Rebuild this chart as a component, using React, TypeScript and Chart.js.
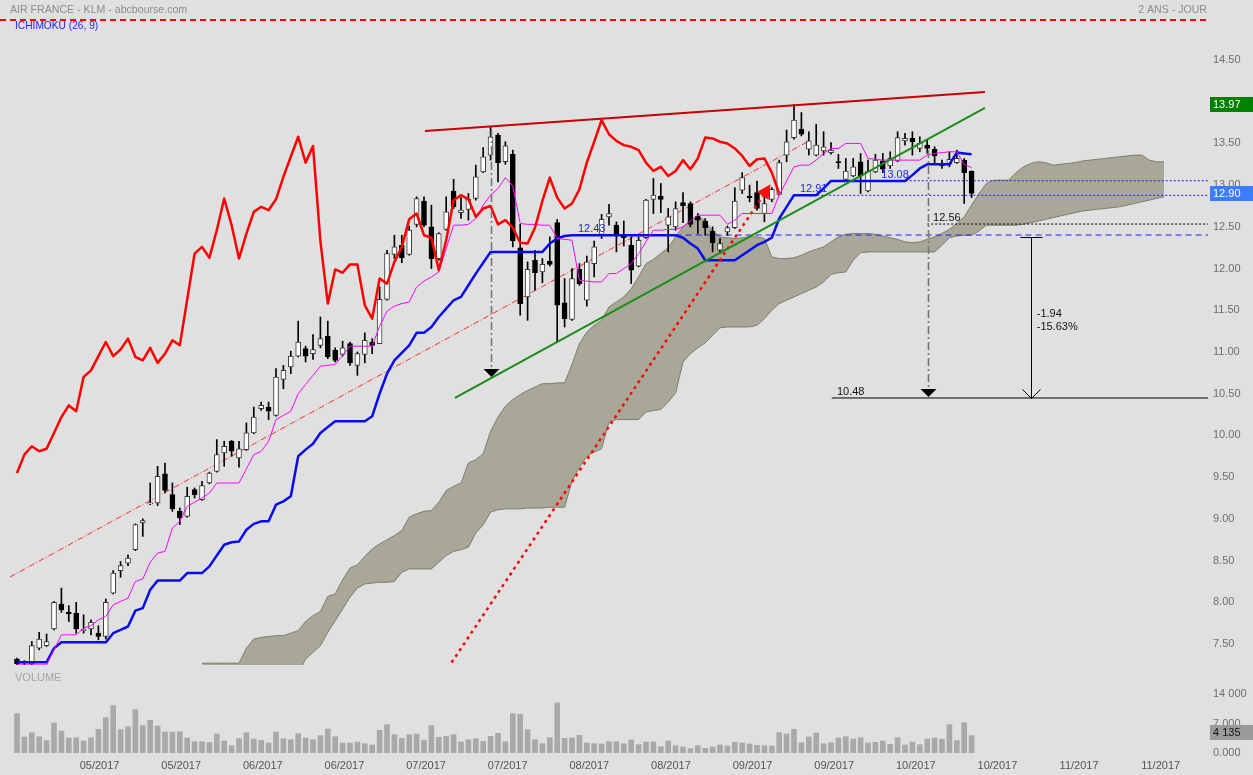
import React, { useEffect, useRef } from "react";
import { Chart, registerables } from "chart.js";

Chart.register(...registerables);

const FONT = '"Liberation Sans", Arial, Helvetica, sans-serif';

// ---------- daily sessions (index 0 .. 129) ----------
const opens = [
  7.32, 7.27, 7.26, 7.45, 7.48, 7.68, 7.98, 7.88, 7.87, 7.66,
  7.68, 7.63, 7.59, 8.11, 8.38, 8.47, 8.63, 8.95, 9.18, 9.19,
  9.54, 9.29, 9.09, 9.03, 9.35, 9.23, 9.43, 9.57, 9.79, 9.93,
  9.73, 9.83, 10.03, 10.32, 10.34, 10.24, 10.67, 10.82, 10.95, 11.04,
  10.98, 11.08, 11.19, 11.02, 10.97, 11.1, 10.84, 10.97, 11.12, 11.1,
  11.63, 12.17, 12.28, 12.17, 12.53, 12.81, 12.5, 12.12, 12.47, 12.93,
  12.67, 12.71, 12.84, 13.16, 13.36, 13.6, 13.28, 13.37, 12.25, 11.66,
  12.1, 11.96, 12.09, 12.55, 11.59, 11.39, 11.99, 11.62, 12.06, 12.41,
  12.62, 12.52, 12.41, 12.28, 12.03, 12.37, 12.83, 12.87, 12.52, 12.5,
  12.79, 12.78, 12.63, 12.57, 12.45, 12.22, 12.44, 12.49, 12.94, 12.87,
  12.91, 12.66, 12.83, 12.89, 13.36, 13.57, 13.67, 13.43, 13.36, 13.41,
  13.39, 13.28, 13.07, 13.11, 13.28, 12.93, 13.16, 13.29, 13.23, 13.29,
  13.53, 13.56, 13.44, 13.48, 13.43, 13.25, 13.25, 13.27, 13.3, 13.17,
];
const highs = [
  7.33, 7.3, 7.53, 7.64, 7.62, 8.01, 8.17, 7.96, 8.0, 7.85,
  7.79, 7.72, 8.04, 8.38, 8.49, 8.57, 8.94, 9.0, 9.43, 9.63,
  9.67, 9.43, 9.13, 9.38, 9.37, 9.45, 9.56, 9.95, 9.93, 9.94,
  9.93, 10.15, 10.34, 10.4, 10.4, 10.8, 10.84, 11.01, 11.37, 11.07,
  11.21, 11.42, 11.37, 11.05, 11.13, 11.12, 11.0, 11.23, 11.16, 11.78,
  12.22, 12.4, 12.4, 12.51, 12.86, 12.86, 12.76, 12.43, 12.86, 13.07,
  12.85, 12.9, 13.24, 13.45, 13.7, 13.62, 13.52, 13.42, 12.53, 12.08,
  12.22, 12.12, 12.38, 12.59, 11.88, 12.0, 12.06, 12.15, 12.33, 12.65,
  12.77, 12.56, 12.57, 12.38, 12.38, 12.83, 13.08, 13.02, 12.72, 12.8,
  12.91, 12.8, 12.66, 12.6, 12.5, 12.36, 12.51, 12.97, 13.15, 13.0,
  13.05, 12.88, 12.97, 13.3, 13.66, 13.97, 13.87, 13.64, 13.73, 13.64,
  13.51, 13.37, 13.32, 13.32, 13.38, 13.3, 13.37, 13.38, 13.4, 13.64,
  13.62, 13.64, 13.58, 13.55, 13.46, 13.3, 13.4, 13.42, 13.32, 13.17,
];
const lows = [
  7.25, 7.25, 7.25, 7.43, 7.47, 7.67, 7.88, 7.77, 7.63, 7.63,
  7.61, 7.55, 7.56, 8.1, 8.3, 8.44, 8.62, 8.79, 9.17, 9.16,
  9.31, 9.09, 8.93, 9.02, 9.25, 9.22, 9.42, 9.56, 9.63, 9.75,
  9.62, 9.82, 10.02, 10.3, 10.19, 10.23, 10.56, 10.74, 10.94, 10.88,
  10.91, 11.05, 10.92, 10.88, 10.95, 10.84, 10.72, 10.87, 10.98, 11.1,
  11.62, 12.12, 12.07, 12.16, 12.5, 12.5, 12.0, 12.1, 12.46, 12.72,
  12.6, 12.58, 12.82, 13.15, 13.3, 13.04, 13.25, 12.26, 11.44, 11.38,
  11.74, 11.83, 12.03, 11.12, 11.3, 11.38, 11.8, 11.55, 11.9, 12.36,
  12.52, 12.2, 12.27, 11.82, 12.02, 12.36, 12.66, 12.67, 12.2, 12.46,
  12.55, 12.5, 12.42, 12.4, 12.2, 12.18, 12.4, 12.48, 12.9, 12.8,
  12.7, 12.56, 12.8, 12.88, 13.28, 13.55, 13.59, 13.36, 13.35, 13.36,
  13.37, 13.2, 13.06, 13.1, 12.9, 12.92, 13.15, 13.15, 13.2, 13.28,
  13.48, 13.36, 13.4, 13.38, 13.25, 13.2, 13.22, 13.26, 12.78, 12.85,
];
const closes = [
  7.26, 7.28, 7.48, 7.56, 7.53, 8.0, 7.91, 7.86, 7.68, 7.68,
  7.76, 7.59, 8.0, 8.35, 8.44, 8.53, 8.93, 8.98, 9.19, 9.51,
  9.34, 9.12, 9.01, 9.27, 9.29, 9.4, 9.55, 9.77, 9.87, 9.81,
  9.84, 10.03, 10.22, 10.36, 10.29, 10.7, 10.78, 10.95, 11.12, 10.95,
  11.03, 11.16, 10.94, 10.9, 11.05, 10.87, 10.98, 11.14, 11.08, 11.63,
  12.18, 12.26, 12.13, 12.46, 12.84, 12.52, 12.12, 12.42, 12.68, 12.74,
  12.7, 12.83, 13.1, 13.34, 13.58, 13.27, 13.47, 12.33, 11.58, 11.99,
  11.95, 12.05, 12.05, 11.56, 11.4, 11.88, 11.82, 12.08, 12.26, 12.59,
  12.66, 12.4, 12.37, 11.98, 12.34, 12.82, 12.88, 12.83, 12.62, 12.72,
  12.75, 12.53, 12.58, 12.49, 12.31, 12.3, 12.49, 12.81, 13.09, 12.85,
  12.72, 12.78, 12.95, 13.27, 13.52, 13.78, 13.61, 13.53, 13.48, 13.46,
  13.42, 13.27, 13.17, 13.22, 13.11, 13.17, 13.3, 13.19, 13.32, 13.57,
  13.56, 13.52, 13.5, 13.44, 13.35, 13.23, 13.31, 13.32, 13.15, 12.9,
];
const volumes = [
  9330, 3800, 4820, 3870, 2930, 7120, 5220, 3560, 3640, 2850,
  3640, 5620, 8380, 11230, 5540, 6250, 10280, 6490, 7750, 6410,
  4980, 4980, 5060, 3560, 2690, 2690, 2530, 4510, 2850, 1740,
  3400, 4820, 3320, 3010, 2370, 4980, 3400, 3160, 4590, 3560,
  3160, 4110, 5700, 3870, 2370, 2370, 2610, 2210, 1900, 5380,
  6720, 4350, 3480, 4350, 4510, 3010, 6490, 3720, 3950, 4350,
  2610, 3160, 3400, 2770, 3950, 4670, 2690, 9330, 9170, 5540,
  3160, 2210, 3640, 11870, 3480, 3560, 4190, 2370, 2210, 2140,
  2690, 2690, 2215, 3085, 1977, 2610, 2610, 1503, 2848, 1740,
  1424, 1028, 1740, 1107, 1424, 1898, 1661, 2531, 2373, 2136,
  1819, 1740, 1661, 4825, 4509, 5616, 2452, 3797, 4746, 2215,
  2452, 3560, 3876, 3322, 3639, 2373, 2531, 2848, 2057, 3639,
  1898, 2610, 1977, 3322, 3560, 3243, 6723, 2927, 7198, 4135,
];

// ---------- Ichimoku (26, 9) ----------
const tenkan = [
  7.25, 7.25, 7.25, 7.25, 7.25, 7.43, 7.61, 7.61, 7.61, 7.69,
  7.72, 7.79, 7.83, 7.97, 8.01, 8.05, 8.25, 8.28, 8.48, 8.59,
  8.61, 8.89, 8.97, 9.15, 9.2, 9.25, 9.31, 9.43, 9.43, 9.43,
  9.43, 9.6, 9.77, 9.81, 9.93, 10.19, 10.24, 10.29, 10.5, 10.61,
  10.72, 10.83, 10.84, 10.85, 10.96, 11.07, 11.07, 11.07, 11.07, 11.31,
  11.49, 11.55, 11.58, 11.6, 11.78, 11.85, 11.9, 11.96, 12.24, 12.52,
  12.52, 12.53, 12.6, 12.76, 12.88, 12.96, 13.09, 12.99, 12.54, 12.53,
  12.53, 12.52, 12.52, 12.36, 12.35, 12.34, 11.86, 11.85, 11.84, 11.84,
  11.94, 11.94, 12.0, 12.06, 12.18, 12.32, 12.46, 12.46, 12.47, 12.47,
  12.5, 12.57, 12.64, 12.64, 12.64, 12.64, 12.53, 12.58, 12.66, 12.66,
  12.66, 12.66, 12.66, 12.88, 13.05, 13.22, 13.24, 13.24, 13.3, 13.38,
  13.44, 13.44, 13.5, 13.5, 13.5, 13.32, 13.31, 13.3, 13.3, 13.3,
  13.3, 13.3, 13.3, 13.36, 13.38, 13.39, 13.4, 13.4, 13.25, 13.21,
];
const kijun = [
  7.28, 7.28, 7.28, 7.28, 7.28, 7.45, 7.52, 7.52, 7.52, 7.52,
  7.52, 7.52, 7.52, 7.63, 7.67, 7.71, 7.9, 7.93, 8.15, 8.26,
  8.26, 8.26, 8.26, 8.35, 8.35, 8.35, 8.43, 8.56, 8.69, 8.72,
  8.73, 8.87, 8.94, 8.97, 8.97, 9.17, 9.21, 9.27, 9.75, 9.83,
  9.9, 10.03, 10.1, 10.17, 10.17, 10.17, 10.17, 10.17, 10.23, 10.5,
  10.74, 10.9, 10.99, 11.08, 11.23, 11.23, 11.3, 11.42, 11.52, 11.62,
  11.66, 11.8, 11.94, 12.07, 12.2, 12.2, 12.2, 12.2, 12.2, 12.2,
  12.2, 12.2, 12.3, 12.36, 12.39, 12.4, 12.4, 12.4, 12.4, 12.4,
  12.4, 12.4, 12.4, 12.4, 12.4, 12.4, 12.4, 12.4, 12.4, 12.4,
  12.37, 12.3, 12.24, 12.1, 12.1, 12.1, 12.1, 12.1, 12.16, 12.22,
  12.28, 12.32, 12.37, 12.6, 12.74, 12.88, 12.88, 12.88, 12.88, 12.96,
  13.05, 13.05, 13.05, 13.05, 13.05, 13.05, 13.05, 13.05, 13.05, 13.05,
  13.05, 13.12, 13.2, 13.25, 13.25, 13.25, 13.25, 13.39, 13.38, 13.37,
];
const CHIKOU_SHIFT = 26;
const CLOUD_START = 25; // cloud index 25 .. 155
const senkouA = [
  7.27, 7.27, 7.27, 7.27, 7.27, 7.27, 7.45, 7.56, 7.58, 7.59,
  7.6, 7.6, 7.63, 7.66, 7.77, 7.84, 7.89, 8.07, 8.1, 8.27,
  8.41, 8.45, 8.55, 8.64, 8.7, 8.75, 8.8, 8.86, 9.02, 9.06,
  9.09, 9.1, 9.2, 9.34, 9.39, 9.43, 9.67, 9.71, 9.78, 10.05,
  10.22, 10.35, 10.43, 10.49, 10.54, 10.58, 10.62, 10.62, 10.63, 10.63,
  10.85, 11.1, 11.24, 11.32, 11.38, 11.54, 11.6, 11.66, 11.76, 11.9,
  12.06, 12.11, 12.18, 12.25, 12.38, 12.5, 12.58, 12.63, 12.57, 12.45,
  12.38, 12.37, 12.36, 12.37, 12.38, 12.38, 12.36, 12.14, 12.12, 12.12,
  12.13, 12.16, 12.2, 12.23, 12.26, 12.32, 12.38, 12.41, 12.42, 12.42,
  12.42, 12.41, 12.39, 12.37, 12.35, 12.32, 12.31, 12.32, 12.35, 12.38,
  12.42, 12.47, 12.54, 12.62, 12.76, 12.9, 13.02, 13.06, 13.06, 13.06,
  13.15, 13.22, 13.26, 13.28, 13.27, 13.24, 13.25, 13.26, 13.27, 13.29,
  13.3, 13.31, 13.32, 13.33, 13.34, 13.35, 13.36, 13.36, 13.3, 13.28,
  13.28,
];
const senkouB = [
  7.0, 7.0, 7.0, 7.0, 7.0, 7.0, 7.0, 7.0, 7.0, 7.0,
  7.0, 7.0, 7.0, 7.15, 7.32, 7.4, 7.48, 7.64, 7.78, 7.92,
  8.06, 8.17, 8.22, 8.23, 8.24, 8.24, 8.25, 8.36, 8.4, 8.4,
  8.4, 8.4, 8.48, 8.56, 8.61, 8.63, 8.66, 8.83, 8.93, 9.08,
  9.11, 9.12, 9.12, 9.12, 9.13, 9.13, 9.13, 9.14, 9.14, 9.14,
  9.45, 9.62, 9.75, 9.8, 9.84, 10.16, 10.19, 10.19, 10.19, 10.19,
  10.28, 10.3, 10.31, 10.4, 10.51, 10.88, 10.98, 11.05, 11.11, 11.2,
  11.29, 11.3, 11.3, 11.3, 11.3, 11.32, 11.4, 11.5, 11.58, 11.62,
  11.66, 11.7, 11.74, 11.78, 11.84, 11.93, 11.95, 11.96, 12.1, 12.19,
  12.2, 12.2, 12.2, 12.2, 12.2, 12.2, 12.2, 12.2, 12.2, 12.2,
  12.28, 12.37, 12.39, 12.4, 12.4, 12.45, 12.52, 12.52, 12.52, 12.52,
  12.52, 12.53, 12.55, 12.57, 12.59, 12.61, 12.63, 12.65, 12.67, 12.69,
  12.7, 12.71, 12.72, 12.73, 12.74, 12.76, 12.78, 12.8, 12.82, 12.84,
  12.86,
];

// ---------- axes ----------
const xTickPositions = [11.16, 22.19, 33.22, 44.25, 55.28, 66.31, 77.34, 88.37, 99.4, 110.43, 121.46, 132.49, 143.52, 154.55];
const xTickLabels = ["05/2017", "05/2017", "06/2017", "06/2017", "07/2017", "07/2017", "08/2017", "08/2017", "09/2017", "09/2017", "10/2017", "10/2017", "11/2017", "11/2017"];
const priceTicks = [7.5, 8, 8.5, 9, 9.5, 10, 10.5, 11, 11.5, 12, 12.5, 13, 13.5, 14, 14.5];
const volumeTicks = [0, 7000, 14000];
const volumeTickLabels = ["0.000", "7 000", "14 000"];

// ---------- drawings (x = session index, y = price) ----------
const resistanceLine = [{ x: 55.14, y: 13.649 }, { x: 130.8, y: 14.116 }];
const supportLine = [{ x: 59.19, y: 10.449 }, { x: 130.8, y: 13.925 }];
const channelLine = [{ x: -0.95, y: 8.303 }, { x: 106.76, y: 13.517 }];
const arrowLine = [{ x: 58.2, y: 7.208 }, { x: 101.3, y: 12.94 }];
const kijunLevel = [{ x: 89, y: 12.402 }, { x: 165, y: 12.402 }];
const level1291 = [{ x: 107.6, y: 12.878 }, { x: 165, y: 12.878 }];
const level1308 = [{ x: 120.1, y: 13.053 }, { x: 165, y: 13.053 }];
const level1256 = [{ x: 123, y: 12.534 }, { x: 165, y: 12.534 }];
const targetLevel = [{ x: 110.1, y: 10.449 }, { x: 165, y: 10.449 }];
const dropLines = [
  { x: 64.05, top: 13.66, tip: 10.7 },
  { x: 123.1, top: 13.42, tip: 10.46 },
];
const measure = { x: 137.03, top: 12.38, bottom: 10.449, half: 1.5 };
const notes = [
  { x: 75.8, y: 12.48, text: "12.43", blue: true },
  { x: 105.8, y: 12.95, text: "12.91", blue: true },
  { x: 116.8, y: 13.12, text: "13.08", blue: true },
  { x: 123.8, y: 12.606, text: "12.56", blue: false },
  { x: 110.8, y: 10.521, text: "10.48", blue: false },
  { x: 137.8, y: 11.456, text: "-1.94", blue: false },
  { x: 137.8, y: 11.3, text: "-15.63%", blue: false },
];
const lastHigh = 13.97;
const lastClose = 12.9;
const lastVolume = 4135;

const X_MIN = -2.297;
const X_MAX = 160.946;
const PRICE_MIN = 7.2484;
const PRICE_MAX = 14.8596;
const VOLUME_MAX = 20881;

const BLUE_TEXT = "#2424ff";

const pts = (arr: number[], start = 0) => arr.map((v, k) => ({ x: start + k, y: v }));

const fixY = (s: any) => {
  s.width = 45;
  s.paddingTop = 0;
  s.paddingBottom = 0;
};

const mainPlugin = {
  id: "mainDecor",
  afterDatasetsDraw(chart: any) {
    const { ctx } = chart;
    const xs = chart.scales.x;
    const ys = chart.scales.y;
    const area = chart.chartArea;
    ctx.save();
    ctx.beginPath();
    ctx.rect(area.left, area.top, area.right - area.left, area.bottom - area.top);
    ctx.clip();

    // arrow head of red dotted line
    const a0x = xs.getPixelForValue(arrowLine[0].x), a0y = ys.getPixelForValue(arrowLine[0].y);
    const a1x = xs.getPixelForValue(arrowLine[1].x), a1y = ys.getPixelForValue(arrowLine[1].y);
    const len = Math.hypot(a1x - a0x, a1y - a0y);
    const ux = (a1x - a0x) / len, uy = (a1y - a0y) / len;
    const tipX = a1x + ux * 7, tipY = a1y + uy * 7;
    const bx = a1x - ux * 7, by = a1y - uy * 7;
    ctx.fillStyle = "#ff1010";
    ctx.beginPath();
    ctx.moveTo(tipX, tipY);
    ctx.lineTo(bx - uy * 7, by + ux * 7);
    ctx.lineTo(bx + uy * 7, by - ux * 7);
    ctx.closePath();
    ctx.fill();

    // vertical projection lines
    for (const d of dropLines) {
      const px = Math.round(xs.getPixelForValue(d.x)) + 0.5;
      const y1 = ys.getPixelForValue(d.top);
      const tip = ys.getPixelForValue(d.tip);
      ctx.strokeStyle = "#777777";
      ctx.lineWidth = 1.6;
      ctx.setLineDash([8, 3, 2, 3]);
      ctx.beginPath();
      ctx.moveTo(px, y1);
      ctx.lineTo(px, tip - 7);
      ctx.stroke();
      ctx.setLineDash([]);
      ctx.fillStyle = "#000000";
      ctx.beginPath();
      ctx.moveTo(px - 8, tip - 8);
      ctx.lineTo(px + 8, tip - 8);
      ctx.lineTo(px, tip);
      ctx.closePath();
      ctx.fill();
    }

    // measurement arrow
    const mx = Math.round(xs.getPixelForValue(measure.x)) + 0.5;
    const mt = Math.round(ys.getPixelForValue(measure.top)) + 0.5;
    const mb = Math.round(ys.getPixelForValue(measure.bottom)) + 0.5;
    const mh = xs.getPixelForValue(measure.x + measure.half) - xs.getPixelForValue(measure.x);
    ctx.strokeStyle = "#000000";
    ctx.lineWidth = 1;
    ctx.beginPath();
    ctx.moveTo(mx - mh, mt);
    ctx.lineTo(mx + mh, mt);
    ctx.moveTo(mx, mt);
    ctx.lineTo(mx, mb);
    ctx.moveTo(mx - 9, mb - 9);
    ctx.lineTo(mx, mb);
    ctx.lineTo(mx + 9, mb - 9);
    ctx.stroke();

    // text notes
    ctx.font = `11px ${FONT}`;
    ctx.textBaseline = "middle";
    ctx.textAlign = "left";
    for (const n of notes) {
      ctx.fillStyle = n.blue ? BLUE_TEXT : "#111111";
      ctx.fillText(n.text, xs.getPixelForValue(n.x), ys.getPixelForValue(n.y));
    }
    ctx.restore();
  },
  afterDraw(chart: any) {
    const { ctx } = chart;
    const ys = chart.scales.y;
    const area = chart.chartArea;
    ctx.save();
    // header
    ctx.font = `10.6px ${FONT}`;
    ctx.fillStyle = "#8c8c8c";
    ctx.textBaseline = "alphabetic";
    ctx.textAlign = "left";
    ctx.fillText("AIR FRANCE - KLM - abcbourse.com", 10, 13);
    ctx.textAlign = "right";
    ctx.fillText("2 ANS - JOUR", area.right - 1, 13);
    ctx.strokeStyle = "#ff0000";
    ctx.lineWidth = 2;
    ctx.setLineDash([6, 4]);
    ctx.beginPath();
    ctx.moveTo(0, 20);
    ctx.lineTo(area.right, 20);
    ctx.stroke();
    ctx.setLineDash([]);
    ctx.font = `10.2px ${FONT}`;
    ctx.fillStyle = BLUE_TEXT;
    ctx.textAlign = "left";
    ctx.fillText("ICHIMOKU (26, 9)", 15, 29);

    // value boxes on the price axis
    const boxes = [
      { v: lastHigh, bg: "#008000" },
      { v: lastClose, bg: "#3b7dff" },
    ];
    ctx.font = `11px ${FONT}`;
    ctx.textBaseline = "middle";
    for (const b of boxes) {
      const yy = Math.round(ys.getPixelForValue(b.v));
      ctx.fillStyle = b.bg;
      ctx.fillRect(area.right + 2, yy - 7, 60, 15);
      ctx.fillStyle = "#ffffff";
      ctx.fillText(b.v.toFixed(2), area.right + 5, yy + 0.5);
    }
    ctx.restore();
  },
};

const volumePlugin = {
  id: "volDecor",
  afterDraw(chart: any) {
    const { ctx } = chart;
    const ys = chart.scales.y;
    const area = chart.chartArea;
    ctx.save();
    ctx.font = `11px ${FONT}`;
    ctx.textBaseline = "middle";
    ctx.textAlign = "left";
    ctx.fillStyle = "#a6a6a6";
    ctx.fillText("VOLUME", 15, 13);
    const yy = Math.round(ys.getPixelForValue(lastVolume)) - 4;
    ctx.fillStyle = "#9a9a9a";
    ctx.fillRect(area.right + 2, yy - 7, 60, 15);
    ctx.fillStyle = "#111111";
    ctx.fillText("4 135", area.right + 5, yy + 0.5);
    ctx.restore();
  },
};

export default function App() {
  const mainRef = useRef<HTMLCanvasElement>(null);
  const volRef = useRef<HTMLCanvasElement>(null);

  useEffect(() => {
    const tickFont = { family: FONT, size: 11 };
    const lineBase = { type: "line", pointRadius: 0, tension: 0, fill: false, borderJoinStyle: "round" };

    const candleUp = closes.map((c, i) => c >= opens[i]);

    const main = new Chart(mainRef.current as HTMLCanvasElement, {
      type: "bar",
      data: {
        datasets: [
          { ...lineBase, data: pts(senkouA, CLOUD_START), borderColor: "#7c7c6b", borderWidth: 1, backgroundColor: "#a9a898", fill: "+1", order: 100 },
          { ...lineBase, data: pts(senkouB, CLOUD_START), borderColor: "#7c7c6b", borderWidth: 1, order: 99 },
          { ...lineBase, data: kijunLevel, borderColor: "#1e1eff", borderWidth: 1, borderDash: [6, 4], order: 90 },
          { ...lineBase, data: level1291, borderColor: "#1e1eff", borderWidth: 1, borderDash: [2, 2], order: 90 },
          { ...lineBase, data: level1308, borderColor: "#1e1eff", borderWidth: 1, borderDash: [2, 2], order: 90 },
          { ...lineBase, data: level1256, borderColor: "#000000", borderWidth: 1, borderDash: [2, 2], order: 90 },
          { ...lineBase, data: targetLevel, borderColor: "#000000", borderWidth: 1, order: 90 },
          { ...lineBase, data: channelLine, borderColor: "#ff2a2a", borderWidth: 1, borderDash: [6, 2, 1, 2], order: 85 },
          {
            type: "bar",
            data: lows.map((l, i) => ({ x: i, y: [l, highs[i]] })),
            backgroundColor: "#000000",
            barThickness: 1,
            grouped: false,
            order: 70,
          },
          {
            type: "bar",
            data: opens.map((o, i) => ({ x: i, y: [o, closes[i]] })),
            backgroundColor: candleUp.map((u) => (u ? "#ffffff" : "#000000")),
            borderColor: candleUp.map((u) => (u ? "#3a3a3a" : "#000000")),
            borderWidth: 1,
            borderSkipped: false,
            minBarLength: 1,
            barThickness: 5,
            grouped: false,
            order: 69,
          },
          { ...lineBase, data: pts(kijun), borderColor: "#0a0af0", borderWidth: 2.5, order: 60 },
          { ...lineBase, data: pts(tenkan), borderColor: "#ff00ff", borderWidth: 1, order: 59 },
          { ...lineBase, data: pts(closes.slice(CHIKOU_SHIFT)), borderColor: "#ff0000", borderWidth: 2.5, order: 58 },
          { ...lineBase, data: arrowLine, borderColor: "#ff0000", borderWidth: 2.5, borderDash: [3, 4], order: 50 },
          { ...lineBase, data: resistanceLine, borderColor: "#c80000", borderWidth: 2, order: 45 },
          { ...lineBase, data: supportLine, borderColor: "#1a8c1a", borderWidth: 2, order: 44 },
        ],
      },
      options: {
        animation: false,
        responsive: false,
        maintainAspectRatio: false,
        events: [],
        layout: { padding: { top: 30, bottom: 3, left: 0, right: 0 } },
        plugins: { legend: { display: false }, tooltip: { enabled: false } },
        scales: {
          x: { type: "linear", min: X_MIN, max: X_MAX, offset: false, display: false },
          y: {
            type: "linear",
            position: "right",
            min: PRICE_MIN,
            max: PRICE_MAX,
            grid: { display: false, drawTicks: false },
            border: { display: false },
            ticks: { color: "#6e6e6e", font: tickFont, padding: 5, callback: (v: any) => Number(v).toFixed(2) },
            afterBuildTicks: (s: any) => {
              s.ticks = priceTicks.map((v) => ({ value: v }));
            },
            afterFit: fixY,
          },
        },
      } as any,
      plugins: [mainPlugin],
    } as any);

    const vol = new Chart(volRef.current as HTMLCanvasElement, {
      type: "bar",
      data: {
        datasets: [
          {
            type: "bar",
            data: volumes.map((v, i) => ({ x: i, y: v })),
            backgroundColor: "#a9a9a9",
            barThickness: 5,
            grouped: false,
          },
        ],
      },
      options: {
        animation: false,
        responsive: false,
        maintainAspectRatio: false,
        events: [],
        layout: { padding: 0 },
        plugins: { legend: { display: false }, tooltip: { enabled: false } },
        scales: {
          x: {
            type: "linear",
            min: X_MIN,
            max: X_MAX,
            offset: false,
            grid: { display: false, drawTicks: false },
            border: { display: false },
            ticks: {
              color: "#555555",
              font: tickFont,
              padding: 6,
              maxRotation: 0,
              autoSkip: false,
              callback: (_v: any, idx: number) => xTickLabels[idx],
            },
            afterBuildTicks: (s: any) => {
              s.ticks = xTickPositions.map((v) => ({ value: v }));
            },
            afterFit: (s: any) => {
              s.height = 22;
              s.paddingLeft = 0;
              s.paddingRight = 0;
            },
          },
          y: {
            type: "linear",
            position: "right",
            min: 0,
            max: VOLUME_MAX,
            grid: { display: false, drawTicks: false },
            border: { display: false },
            ticks: {
              color: "#6e6e6e",
              font: tickFont,
              padding: 5,
              callback: (v: any) => volumeTickLabels[volumeTicks.indexOf(Number(v))],
            },
            afterBuildTicks: (s: any) => {
              s.ticks = volumeTicks.map((v) => ({ value: v }));
            },
            afterFit: fixY,
          },
        },
      } as any,
      plugins: [volumePlugin],
    } as any);

    return () => {
      main.destroy();
      vol.destroy();
    };
  }, []);

  return (
    <div
      style={{
        position: "absolute",
        left: 0,
        top: 0,
        width: 1253,
        height: 775,
        background: "#e0e0e0",
        overflow: "hidden",
      }}
    >
      <canvas ref={mainRef} width={1253} height={668} style={{ position: "absolute", left: 0, top: 0, width: 1253, height: 668 }} />
      <canvas ref={volRef} width={1253} height={110} style={{ position: "absolute", left: 0, top: 665, width: 1253, height: 110 }} />
    </div>
  );
}
